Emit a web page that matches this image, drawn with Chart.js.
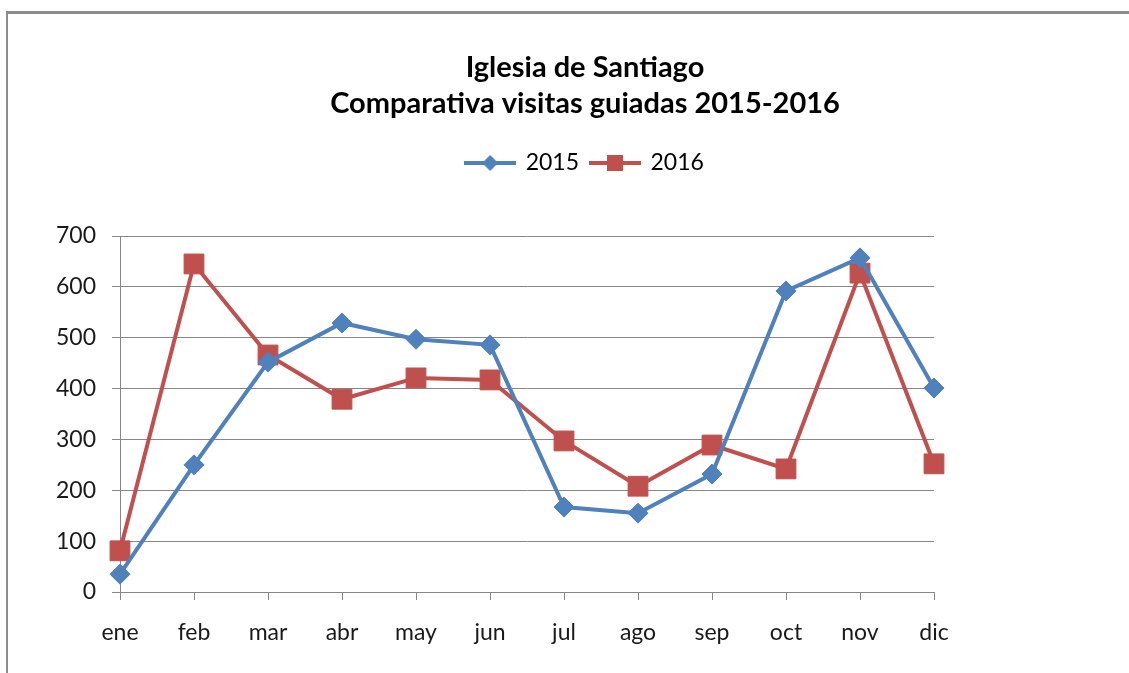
<!DOCTYPE html>
<html>
<head>
<meta charset="utf-8">
<title>Iglesia de Santiago</title>
<script src="https://cdn.jsdelivr.net/npm/chart.js@4"></script>
<style>
    html, body { margin: 0; padding: 0; background: #fff; overflow: hidden; }
    #frame {
        position: absolute; left: 6px; top: 11px; right: -10px; bottom: -10px;
        border-top: 3px solid #8c8c8c; border-left: 2px solid #8c8c8c;
    }
    #wrap { position: absolute; left: 0; top: 0; width: 1129px; height: 673px; }
</style>
</head>
<body>
<div id="frame"></div>
<div id="wrap"><canvas id="chart" width="1129" height="673"></canvas></div>
<script>
const months = ["ene", "feb", "mar", "abr", "may", "jun", "jul", "ago", "sep", "oct", "nov", "dic"];
const visits2015 = [35, 250, 452, 529, 497, 486, 167, 155, 232, 592, 657, 401];
const visits2016 = [81, 645, 466, 379, 421, 417, 297, 208, 289, 242, 627, 252];
const yTicks = [0, 100, 200, 300, 400, 500, 600, 700];

const blue = "#4f81bd";
const red = "#c0504d";
const gridColor = "#878787";
const textColor = "#1a1a1a";
const fontName = "Lato, 'Open Sans', sans-serif";

// small picture for the legend: line with the marker in the middle
function legendIcon(color, shape) {
    const c = document.createElement("canvas");
    c.width = 52;
    c.height = 20;
    const g = c.getContext("2d");
    g.strokeStyle = color;
    g.fillStyle = color;
    g.lineWidth = 4;
    g.beginPath();
    g.moveTo(0, 10);
    g.lineTo(52, 10);
    g.stroke();
    if (shape === "diamond") {
        g.beginPath();
        g.moveTo(26, 2);
        g.lineTo(34, 10);
        g.lineTo(26, 18);
        g.lineTo(18, 10);
        g.closePath();
        g.fill();
    } else {
        g.fillRect(18, 2, 16, 16);
    }
    return c;
}

// empty axis that only reserves room around the plot
function spacer(type, position, size) {
    return {
        type: type,
        position: position,
        display: true,
        grid: { display: false },
        border: { display: false },
        ticks: { display: false },
        afterFit: function (scale) {
            if (position === "top") {
                scale.height = size;
            } else {
                scale.width = size;
            }
        }
    };
}

document.addEventListener("DOMContentLoaded", function () {
    const icons = [legendIcon(blue, "diamond"), legendIcon(red, "square")];

    new Chart(document.getElementById("chart"), {
        type: "line",
        data: {
            labels: months,
            datasets: [
                {
                    label: "2015",
                    data: visits2015,
                    borderColor: blue,
                    backgroundColor: blue,
                    borderWidth: 4,
                    pointStyle: "rectRot",
                    pointRadius: 10,
                    pointBorderWidth: 1,
                    pointHoverRadius: 10,
                    tension: 0,
                    clip: false
                },
                {
                    label: "2016",
                    data: visits2016,
                    borderColor: red,
                    backgroundColor: red,
                    borderWidth: 4,
                    pointStyle: "rect",
                    pointRadius: 14,
                    pointBorderWidth: 1,
                    pointHoverRadius: 14,
                    tension: 0,
                    clip: false
                }
            ]
        },
        options: {
            responsive: false,
            animation: false,
            devicePixelRatio: 1,
            layout: { padding: { left: 41, right: 0, top: 0, bottom: 0 } },
            plugins: {
                title: {
                    display: true,
                    text: ["Iglesia de Santiago", "Comparativa visitas guiadas 2015-2016"],
                    color: "#000",
                    font: { family: fontName, size: 29, weight: "bold", lineHeight: 36 / 29 },
                    padding: { top: 50, bottom: 17.5 }
                },
                legend: {
                    display: true,
                    labels: {
                        color: textColor,
                        font: { family: fontName, size: 23 },
                        usePointStyle: true,
                        pointStyleWidth: 48,
                        padding: 12,
                        generateLabels: function (chart) {
                            return chart.data.datasets.map(function (ds, i) {
                                return {
                                    text: ds.label,
                                    pointStyle: icons[i],
                                    fillStyle: ds.borderColor,
                                    strokeStyle: ds.borderColor,
                                    lineWidth: 0,
                                    hidden: false,
                                    datasetIndex: i
                                };
                            });
                        }
                    }
                },
                tooltip: { enabled: false }
            },
            scales: {
                x: {
                    offset: false,
                    afterFit: function (scale) { scale.height = 81; },
                    grid: {
                        display: true,
                        drawOnChartArea: false,
                        drawTicks: true,
                        tickLength: 8,
                        color: gridColor
                    },
                    border: { display: true, color: gridColor, width: 1 },
                    ticks: {
                        color: textColor,
                        font: { family: fontName, size: 23 },
                        padding: 19,
                        maxRotation: 0,
                        autoSkip: false
                    }
                },
                y: {
                    min: yTicks[0],
                    max: yTicks[yTicks.length - 1],
                    afterFit: function (scale) { scale.width = 79; },
                    afterBuildTicks: function (scale) {
                        scale.ticks = yTicks.map(function (v) { return { value: v }; });
                    },
                    grid: {
                        color: gridColor,
                        tickLength: 8,
                        lineWidth: 1
                    },
                    border: { display: true, color: gridColor, width: 1 },
                    ticks: {
                        color: textColor,
                        font: { family: fontName, size: 23 },
                        padding: 16
                    }
                },
                xTop: spacer("category", "top", 51.5),
                yRight: spacer("linear", "right", 195)
            }
        }
    });
});
</script>
</body>
</html>
